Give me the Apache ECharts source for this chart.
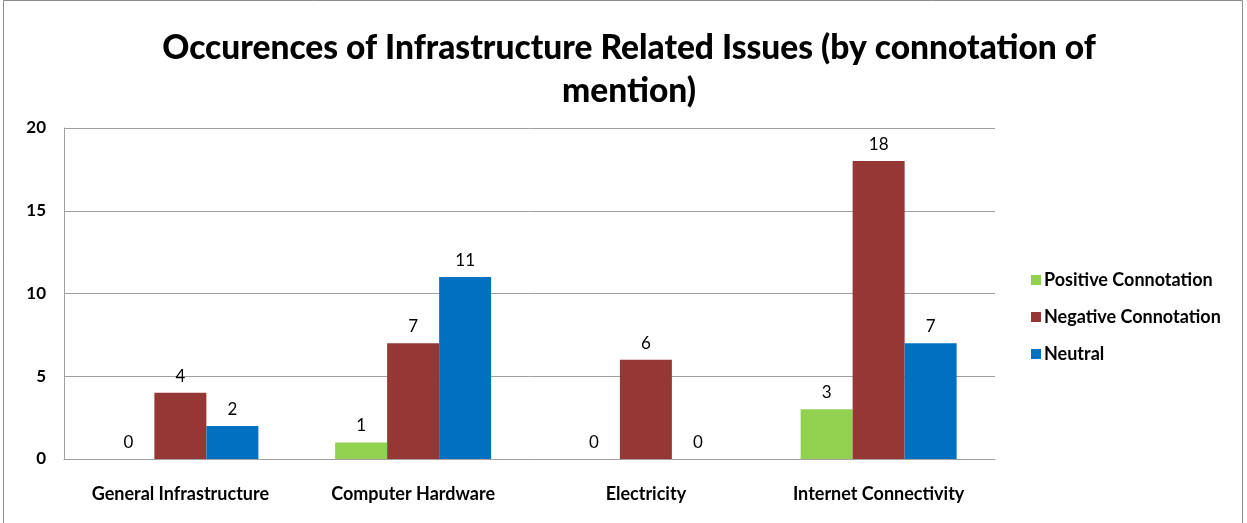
<!DOCTYPE html>
<html>
<head>
<meta charset="utf-8">
<script src="https://cdn.jsdelivr.net/npm/echarts@6/dist/echarts.min.js"></script>
<style>
  html, body { margin: 0; padding: 0; background: #fff; }
  #chart { width: 1247px; height: 523px; }
</style>
</head>
<body>
<div id="chart"></div>
<script>
// Issue categories along the x axis
const categories = ['General Infrastructure', 'Computer Hardware', 'Electricity', 'Internet Connectivity'];

// Mentions by connotation
const positive = [0, 1, 0, 3];
const negative = [4, 7, 6, 18];
const neutral = [2, 11, 0, 7];

const seriesNames = ['Positive Connotation', 'Negative Connotation', 'Neutral'];
const seriesColors = ['#92D050', '#953735', '#0070C0'];

const fontFamily = 'Lato, "Open Sans", sans-serif';

const chart = echarts.init(document.getElementById('chart'), null, { renderer: 'canvas' });

function barSeries(name, data, color) {
  return {
    name: name,
    type: 'bar',
    data: data,
    barWidth: 52,
    barGap: '0%',
    itemStyle: { color: color },
    label: {
      show: true,
      position: 'top',
      distance: 8,
      color: '#000',
      fontFamily: fontFamily,
      fontSize: 17
    }
  };
}

chart.setOption({
  animation: false,
  backgroundColor: '#fff',
  title: {
    text: 'Occurences of Infrastructure Related Issues (by connotation of\nmention)',
    left: 624,
    textAlign: 'center',
    top: 22,
    textStyle: {
      fontFamily: fontFamily,
      fontWeight: 900,
      fontSize: 33.5,
      lineHeight: 43,
      color: '#000'
    }
  },
  legend: {
    orient: 'vertical',
    left: 1026,
    top: 266,
    itemWidth: 10,
    itemHeight: 10,
    itemGap: 19,
    icon: 'rect',
    textStyle: {
      fontFamily: fontFamily,
      fontWeight: 'bold',
      fontSize: 18,
      color: '#000',
      padding: [0, 0, 0, -2]
    },
    data: seriesNames
  },
  grid: {
    left: 64,
    right: 252,
    top: 128,
    bottom: 64,
    containLabel: false
  },
  xAxis: {
    type: 'category',
    data: categories,
    axisLine: { show: true, lineStyle: { color: '#A0A0A0', width: 1 } },
    axisTick: { show: false },
    axisLabel: {
      margin: 26,
      color: '#000',
      fontFamily: fontFamily,
      fontWeight: 'bold',
      fontSize: 18
    }
  },
  yAxis: {
    type: 'value',
    min: 0,
    max: 20,
    interval: 5,
    axisLine: { show: true, lineStyle: { color: '#A0A0A0', width: 1 } },
    axisTick: { show: false },
    splitLine: { show: true, lineStyle: { color: '#A0A0A0', width: 1 } },
    axisLabel: {
      margin: 18,
      color: '#000',
      fontFamily: fontFamily,
      fontWeight: 'bold',
      fontSize: 17
    }
  },
  graphic: [{
    type: 'rect',
    shape: { x: 3.5, y: 0.5, width: 1239, height: 530 },
    style: { fill: 'none', stroke: '#8C8C8C', lineWidth: 1 },
    silent: true
  }],
  series: [
    barSeries(seriesNames[0], positive, seriesColors[0]),
    barSeries(seriesNames[1], negative, seriesColors[1]),
    barSeries(seriesNames[2], neutral, seriesColors[2])
  ]
});
</script>
</body>
</html>
